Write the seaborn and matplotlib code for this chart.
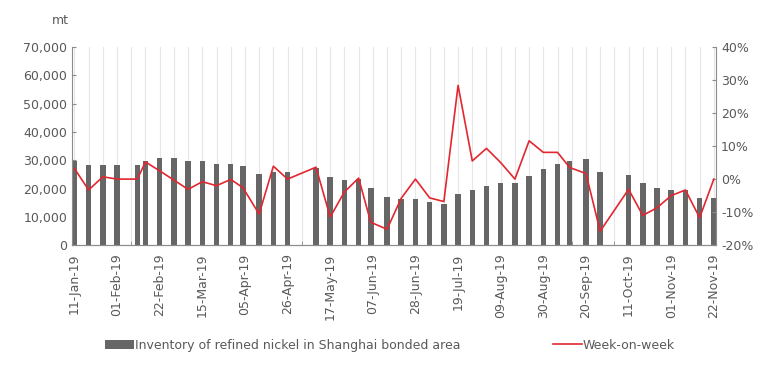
import numpy as np
import pandas as pd
import seaborn as sb
import matplotlib.pyplot as plt
import matplotlib.ticker as ticker

# Data
dates = ["2019-01-11", "2019-01-18", "2019-01-25", "2019-02-01", "2019-02-11", "2019-02-15",
         "2019-02-22", "2019-03-01", "2019-03-08", "2019-03-15", "2019-03-22", "2019-03-29",
         "2019-04-04", "2019-04-12", "2019-04-19", "2019-04-26", "2019-05-10", "2019-05-17",
         "2019-05-24", "2019-05-31", "2019-06-06", "2019-06-14", "2019-06-21", "2019-06-28",
         "2019-07-05", "2019-07-12", "2019-07-19", "2019-07-26", "2019-08-02", "2019-08-09",
         "2019-08-16", "2019-08-23", "2019-08-30", "2019-09-06", "2019-09-12", "2019-09-20",
         "2019-09-27", "2019-10-11", "2019-10-18", "2019-10-25", "2019-11-01", "2019-11-08",
         "2019-11-15", "2019-11-22"]
inventory = [29600, 28400, 28400, 28400, 28400, 29900, 30700, 30700, 29600, 29600, 28800, 28800,
             27900, 25200, 26000, 26000, 27300, 24200, 22900, 23500, 20250, 17100, 16400, 16400,
             15100, 14400, 18200, 19450, 21050, 22100, 22100, 24500, 26900, 28800, 29900, 30300,
             25700, 24900, 22100, 20200, 19500, 19400, 16800, 16800]
wow = [3.2, -3.3, 0.7, 0.0, 0.0, 5.2, 2.5, -0.3, -3.1, -0.8, -2.0, -0.1,
       -2.6, -10.6, 3.9, 0.0, 3.6, -11.5, -3.9, 0.3, -13.1, -15.2, -5.8, 0.0,
       -5.7, -6.8, 28.4, 5.5, 9.3, 5.0, 0.0, 11.6, 8.1, 8.1, 3.5, 1.7,
       -15.8, -3.1, -11.0, -8.7, -5.0, -3.3, -11.7, 0.0]
tick_labels = ["11-Jan-19", "01-Feb-19", "22-Feb-19", "15-Mar-19", "05-Apr-19", "26-Apr-19",
               "17-May-19", "07-Jun-19", "28-Jun-19", "19-Jul-19", "09-Aug-19", "30-Aug-19",
               "20-Sep-19", "11-Oct-19", "01-Nov-19", "22-Nov-19"]

start = pd.Timestamp(dates[0])
days = (pd.to_datetime(dates) - start).days.to_numpy()
tick_days = (pd.to_datetime(tick_labels, format="%d-%b-%y") - start).days.to_numpy()

df = pd.DataFrame({"day": days, "inventory": inventory, "wow": wow})

txt = "#595959"
plt.rcParams["font.family"] = "DejaVu Sans"
plt.rcParams["font.size"] = 9
plt.rcParams["axes.unicode_minus"] = False

fig = plt.figure(figsize=(7.8, 3.68), dpi=100)
ax = fig.add_axes([0.0923, 0.334, 0.826, 0.538])

sb.barplot(data=df, x="day", y="inventory", native_scale=True, width=0.68, color="#666666",
           saturation=1, errorbar=None, ax=ax,
           label="Inventory of refined nickel in Shanghai bonded area")

ax.set_xlim(-1.2, 316.2)
ax.set_ylim(0, 70000)
ax.yaxis.set_major_locator(ticker.MultipleLocator(10000))
ax.yaxis.set_major_formatter(ticker.StrMethodFormatter("{x:,.0f}"))
ax.set_xticks(tick_days)
ax.set_xticklabels(tick_labels, rotation=90)
ax.xaxis.set_minor_locator(ticker.FixedLocator(np.arange(0, 316, 7)))
ax.grid(axis="x", which="both", color="#E6E6E6", lw=0.8)
ax.set_axisbelow(True)
ax.set_xlabel("")
ax.set_ylabel("")

ax2 = ax.twinx()
sb.lineplot(data=df, x="day", y="wow", color="#E3262F", lw=1.2, ax=ax2, label="Week-on-week")
ax2.set_ylim(-20, 40)
ax2.yaxis.set_major_locator(ticker.MultipleLocator(10))
ax2.yaxis.set_major_formatter(ticker.PercentFormatter(decimals=0))
ax2.set_ylabel("")
ax2.get_legend().remove()

for a in (ax, ax2):
    a.spines["top"].set_visible(False)
    for s in ("left", "right", "bottom"):
        a.spines[s].set_color("#8C8C8C")
    a.tick_params(which="both", colors="#8C8C8C", labelcolor=txt, direction="in", length=3)
ax.spines["right"].set_visible(False)
ax2.spines["left"].set_visible(False)
ax.tick_params(axis="x", which="major", length=3, pad=6)

fig.text(0.077, 0.945, "mt", color=txt, fontsize=9, ha="center", va="center")

h1, l1 = ax.get_legend_handles_labels()
h2, l2 = ax2.get_legend_handles_labels()
if ax.get_legend() is not None:
    ax.get_legend().remove()
fig.legend(h1 + h2, l1 + l2, loc="center", bbox_to_anchor=(0.5, 0.062), ncol=2,
           frameon=False, handlelength=2.3, handletextpad=0.1, columnspacing=7.4,
           labelcolor=txt, fontsize=9)

plt.savefig("out.png", dpi=100)
